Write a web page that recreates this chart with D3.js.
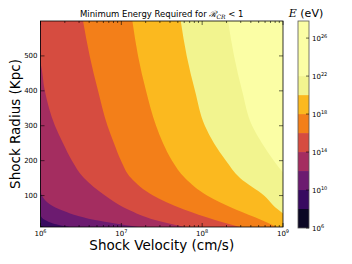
<!DOCTYPE html>
<html>
<head>
<meta charset="utf-8">
<script src="https://cdn.jsdelivr.net/npm/d3@7"></script>
<style>
  body { margin: 0; background: #fff; }
  text { font-family: "DejaVu Sans", sans-serif; }
</style>
</head>
<body>
<div id="chart"></div>
<script>
// log10(E / eV) at each contour line
const levels = [8, 10, 12, 14, 16, 18, 20, 22];
// colour bar bands (log10 E) and their fills
const bandEdges = [6, 8, 10, 12, 14, 16, 18, 20, 22, 27.8];
const bandColors = ["#0b0724", "#380a60", "#6c1b70", "#a42d60", "#d64c40", "#f37f19", "#fbb91f", "#f2f48f", "#fbfea5"];
const cbTicks = [6, 10, 14, 18, 22, 26];
const radiusTicks = [100, 200, 300, 400, 500];
const velocityTicks = [1e6, 1e7, 1e8, 1e9];

// contour boundaries: [shock radius (kpc), shock velocity (cm/s)]
const edge8 = [[600, 3e5], [14, 1.0e6], [10, 1.10e6]];
const edge10 = [[600, 3e5], [44, 1.0e6], [30, 1.14e6], [20, 1.43e6], [15, 1.74e6], [10, 2.32e6]];
const edge12 = [[600, 3e5], [115, 1.0e6], [100, 1.04e6], [60, 1.74e6], [30, 4.72e6], [20, 8.35e6], [10, 1.61e7]];
const edge14 = [[600, 6e5], [480, 1.0e6], [400, 1.13e6], [300, 1.51e6], [250, 1.90e6], [200, 2.45e6], [150, 3.45e6], [100, 6.28e6], [60, 1.21e7], [30, 2.61e7], [10, 6.13e7]];
const edge16 = [[600, 3.36e6], [500, 4.06e6], [400, 5.15e6], [300, 6.74e6], [250, 8.11e6], [200, 9.91e6], [150, 1.32e7], [100, 2.47e7], [60, 5.96e7], [30, 1.44e8], [10, 2.93e8]];
const edge18 = [[600, 1.37e7], [500, 1.61e7], [400, 2.02e7], [300, 2.69e7], [250, 3.28e7], [200, 4.24e7], [150, 6.13e7], [100, 1.15e8], [60, 2.6e8], [30, 5.4e8], [10, 8.4e8]];
const edge20 = [[600, 5.43e7], [500, 6.44e7], [400, 8.15e7], [300, 1.08e8], [250, 1.40e8], [200, 1.97e8], [150, 2.94e8], [100, 5.82e8], [60, 8.67e8], [30, 1.41e9], [10, 2.87e9]];
const edge22 = [[600, 2.09e8], [500, 2.48e8], [400, 3.12e8], [300, 4.15e8], [250, 5.5e8], [200, 7.7e8], [150, 1.15e9], [100, 1.9e9], [60, 3.3e9], [30, 7.5e9], [10, 2.0e10]];
const edges = [edge8, edge10, edge12, edge14, edge16, edge18, edge20, edge22];

const width = 352, height = 264;
const plotLeft = 40.5, plotRight = 283, plotTop = 21, plotBottom = 227;

const svg = d3.select("#chart").append("svg")
  .attr("width", width)
  .attr("height", height);

const x = d3.scaleLog().domain([1e6, 1e9]).range([plotLeft, plotRight]);
const y = d3.scaleLinear().domain([10, 600]).range([plotBottom, plotTop]);

svg.append("clipPath").attr("id", "plot-clip")
  .append("rect")
  .attr("x", plotLeft).attr("y", plotTop)
  .attr("width", plotRight - plotLeft).attr("height", plotBottom - plotTop);

const plot = svg.append("g").attr("clip-path", "url(#plot-clip)");

// lowest band as background, then each "E above level" region on top
plot.append("rect")
  .attr("x", plotLeft).attr("y", plotTop)
  .attr("width", plotRight - plotLeft).attr("height", plotBottom - plotTop)
  .attr("fill", bandColors[0]);

const area = d3.area()
  .curve(d3.curveMonotoneY)
  .y(d => y(d[0]))
  .x0(d => x(d[1]))
  .x1(plotRight + 50);

plot.selectAll("path.band")
  .data(edges)
  .join("path")
  .attr("class", "band")
  .attr("d", area)
  .attr("fill", (d, i) => bandColors[i + 1]);

// ticks, pointing inward on all four sides
const minor = [];
for (let e = 6; e < 9; e++) for (let k = 2; k < 10; k++) minor.push(k * 10 ** e);

const ticks = svg.append("g").attr("stroke", "#000").attr("stroke-width", 0.6);
for (const [v, len] of [...velocityTicks.map(v => [v, 4]), ...minor.map(v => [v, 2])]) {
  ticks.append("line").attr("x1", x(v)).attr("x2", x(v)).attr("y1", plotBottom).attr("y2", plotBottom - len);
  ticks.append("line").attr("x1", x(v)).attr("x2", x(v)).attr("y1", plotTop).attr("y2", plotTop + len);
}
for (const r of radiusTicks) {
  ticks.append("line").attr("x1", plotLeft).attr("x2", plotLeft + 4).attr("y1", y(r)).attr("y2", y(r));
  ticks.append("line").attr("x1", plotRight).attr("x2", plotRight - 4).attr("y1", y(r)).attr("y2", y(r));
}

svg.append("rect")
  .attr("x", plotLeft).attr("y", plotTop)
  .attr("width", plotRight - plotLeft).attr("height", plotBottom - plotTop)
  .attr("fill", "none").attr("stroke", "#000").attr("stroke-width", 0.8);

// tick labels
svg.append("g")
  .selectAll("text")
  .data(radiusTicks)
  .join("text")
  .attr("x", plotLeft - 3)
  .attr("y", d => y(d))
  .attr("dy", "0.35em")
  .attr("text-anchor", "end")
  .attr("font-size", 7)
  .text(d => d);

function power(sel, exp) {
  sel.append("tspan").text("10");
  sel.append("tspan").attr("dy", -3).attr("font-size", 5).text(exp);
}

svg.append("g")
  .selectAll("text")
  .data(velocityTicks)
  .join("text")
  .attr("x", d => x(d))
  .attr("y", plotBottom + 9)
  .attr("text-anchor", "middle")
  .attr("font-size", 7)
  .each(function(d) { power(d3.select(this), Math.round(Math.log10(d))); });

// axis labels and title
svg.append("text")
  .attr("x", (plotLeft + plotRight) / 2)
  .attr("y", 250)
  .attr("text-anchor", "middle")
  .attr("font-size", 13.5)
  .text("Shock Velocity (cm/s)");

svg.append("text")
  .attr("transform", `translate(20,${(plotTop + plotBottom) / 2}) rotate(-90)`)
  .attr("text-anchor", "middle")
  .attr("font-size", 13.5)
  .text("Shock Radius (Kpc)");

const title = svg.append("text")
  .attr("x", (plotLeft + plotRight) / 2)
  .attr("y", 16.5)
  .attr("text-anchor", "middle")
  .attr("font-size", 8.5);
title.append("tspan").text("Minimum Energy Required for ");
title.append("tspan").attr("font-family", "DejaVu Serif").attr("font-style", "italic").text("ℛ");
title.append("tspan").attr("font-family", "DejaVu Serif").attr("font-style", "italic")
  .attr("font-size", 6).attr("dy", 2).text("CR");
title.append("tspan").attr("dy", -2).text(" < 1");

// colour bar
const cbLeft = 298, cbRight = 309;
const cy = d3.scaleLinear().domain([6, 27.8]).range([228, 21]);
const bands = d3.pairs(bandEdges);

svg.append("g")
  .selectAll("rect")
  .data(bands)
  .join("rect")
  .attr("x", cbLeft)
  .attr("width", cbRight - cbLeft)
  .attr("y", d => cy(d[1]))
  .attr("height", d => cy(d[0]) - cy(d[1]))
  .attr("fill", (d, i) => bandColors[i]);

svg.append("rect")
  .attr("x", cbLeft).attr("y", cy(27.8))
  .attr("width", cbRight - cbLeft).attr("height", cy(6) - cy(27.8))
  .attr("fill", "none").attr("stroke", "#555").attr("stroke-width", 0.8);

svg.append("g")
  .selectAll("line")
  .data(cbTicks)
  .join("line")
  .attr("x1", cbRight).attr("x2", cbRight - 3)
  .attr("y1", d => cy(d)).attr("y2", d => cy(d))
  .attr("stroke", "#000").attr("stroke-width", 0.6);

svg.append("g")
  .selectAll("text")
  .data(cbTicks)
  .join("text")
  .attr("x", cbRight + 3)
  .attr("y", d => cy(d) + 3)
  .attr("font-size", 7)
  .each(function(d) { power(d3.select(this), d); });

const eLabel = svg.append("text")
  .attr("x", 306)
  .attr("y", 17)
  .attr("text-anchor", "middle")
  .attr("font-size", 11);
eLabel.append("tspan").attr("font-family", "DejaVu Serif").attr("font-style", "italic").text("E");
eLabel.append("tspan").text(" (eV)");
</script>
</body>
</html>
